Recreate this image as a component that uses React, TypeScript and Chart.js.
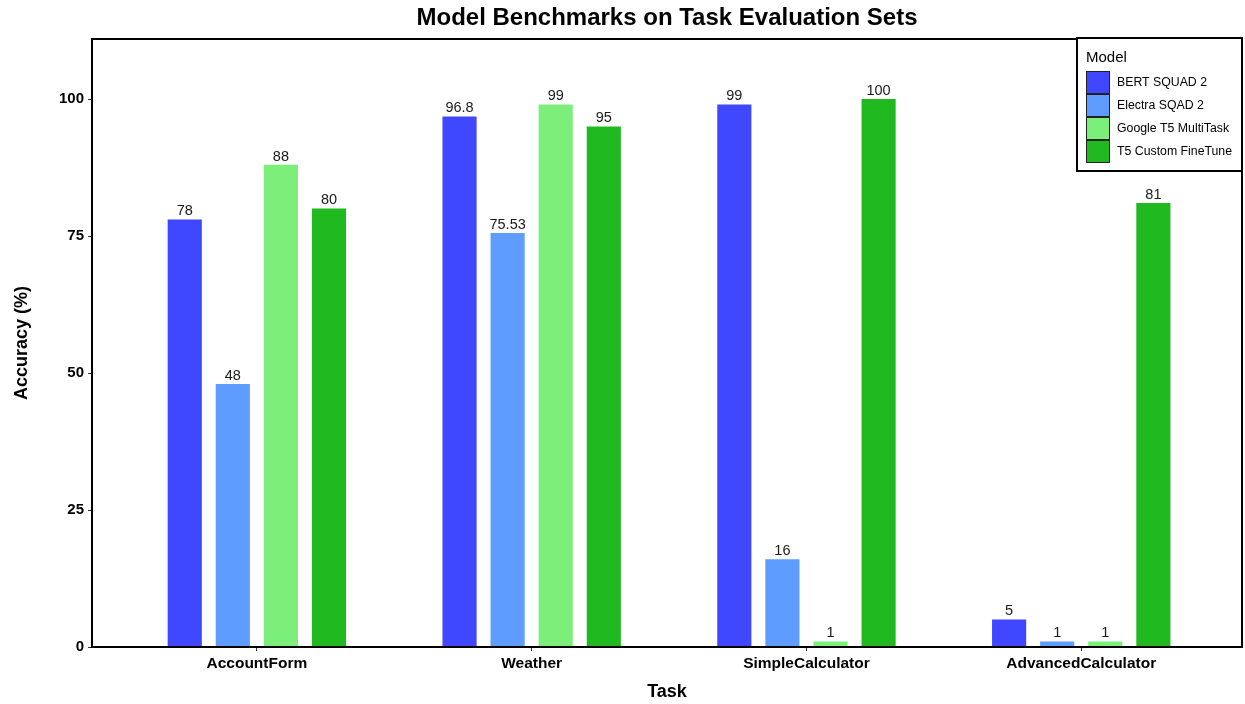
import React, { useEffect, useRef } from "react";
import { Chart, registerables } from "chart.js";

Chart.register(...registerables);

const categories = ["AccountForm", "Weather", "SimpleCalculator", "AdvancedCalculator"];
const modelNames = ["BERT SQUAD 2", "Electra SQAD 2", "Google T5 MultiTask", "T5 Custom FineTune"];
const bertValues = [78, 96.8, 99, 5];
const electraValues = [48, 75.53, 16, 1];
const googleValues = [88, 99, 1, 1];
const t5Values = [80, 95, 100, 81];
const seriesColors = ["#3F47FF", "#5E9DFF", "#7CEF7A", "#20BA20"];
const yTicks = [0, 25, 50, 75, 100];

const FONT = "'Liberation Sans', Arial, sans-serif";

const overlayPlugin = {
  id: "overlay",
  afterDatasetsDraw(chart: any) {
    const ctx = chart.ctx;
    const area = chart.chartArea;
    ctx.save();
    // data labels
    ctx.fillStyle = "#1a1a1a";
    ctx.font = `14.5px ${FONT}`;
    ctx.textAlign = "center";
    ctx.textBaseline = "bottom";
    chart.data.datasets.forEach((ds: any, di: number) => {
      const meta = chart.getDatasetMeta(di);
      meta.data.forEach((bar: any, i: number) => {
        const v = ds.data[i].y;
        ctx.fillText(String(v), bar.x, bar.y - 1);
      });
    });
    // panel border
    ctx.strokeStyle = "#000";
    ctx.lineWidth = 2;
    ctx.strokeRect(area.left, area.top, area.right - area.left, area.bottom - area.top);
    // title
    ctx.fillStyle = "#000";
    ctx.font = `bold 24px ${FONT}`;
    ctx.textBaseline = "middle";
    ctx.textAlign = "center";
    ctx.fillText("Model Benchmarks on Task Evaluation Sets", (area.left + area.right) / 2, 18);
    // x title
    ctx.font = `bold 18px ${FONT}`;
    ctx.fillText("Task", (area.left + area.right) / 2, 692);
    // y title
    ctx.save();
    ctx.translate(22, (area.top + area.bottom) / 2);
    ctx.rotate(-Math.PI / 2);
    ctx.fillText("Accuracy (%)", 0, 0);
    ctx.restore();
    // legend
    const lx = 1077, ly = 38, lw = area.right - 1077, lh = 133;
    ctx.fillStyle = "#fff";
    ctx.fillRect(lx, ly, lw, lh);
    ctx.strokeStyle = "#000";
    ctx.lineWidth = 2;
    ctx.strokeRect(lx, ly, lw, lh);
    ctx.fillStyle = "#000";
    ctx.font = `15px ${FONT}`;
    ctx.textAlign = "left";
    ctx.textBaseline = "middle";
    ctx.fillText("Model", 1086, 58);
    const sx = 1086, sw = 24, sh = 23, sy = 71;
    ctx.font = `12.3px ${FONT}`;
    modelNames.forEach((name, i) => {
      const y = sy + i * sh;
      ctx.fillStyle = seriesColors[i];
      ctx.fillRect(sx, y, sw, sh);
      ctx.strokeStyle = "#222";
      ctx.lineWidth = 1;
      ctx.strokeRect(sx + 0.5, y + 0.5, sw - 1, sh - 1);
      ctx.fillStyle = "#000";
      ctx.fillText(name, 1117, y + sh / 2 + 0.5);
    });
    ctx.restore();
  },
};

export default function App() {
  const ref = useRef<HTMLCanvasElement>(null);
  useEffect(() => {
    if (!ref.current) return;
    const all = [bertValues, electraValues, googleValues, t5Values];
    const chart = new Chart(ref.current, {
      type: "bar",
      data: {
        datasets: all.map((vals, si) => ({
          label: modelNames[si],
          data: vals.map((v, i) => ({ x: i, y: v })),
          backgroundColor: seriesColors[si],
          borderWidth: 0,
          categoryPercentage: 0.7,
          barPercentage: 0.71,
        })),
      },
      options: {
        responsive: false,
        animation: false,
        layout: { padding: { top: 39, right: 3, left: 0, bottom: 0 } },
        plugins: {
          legend: { display: false },
          title: { display: false },
          tooltip: { enabled: false },
        },
        scales: {
          x: {
            type: "linear",
            offset: false,
            min: -0.6,
            max: 3.585,
            afterBuildTicks(scale: any) {
              scale.ticks = categories.map((_, i) => ({ value: i }));
            },
            afterFit(scale: any) {
              scale.height = 57;
            },
            ticks: {
              callback: (v: any) => categories[v] ?? "",
              color: "#000",
              font: { family: FONT, size: 15.5, weight: "bold" },
              padding: 3,
              maxRotation: 0,
              autoSkip: false,
            },
            grid: { offset: false, drawOnChartArea: false, drawTicks: true, tickLength: 4, color: "#333" },
            border: { display: true, color: "#000", width: 2 },
          },
          y: {
            min: 0,
            max: 110.95,
            afterBuildTicks(scale: any) {
              scale.ticks = yTicks.map((v) => ({ value: v }));
            },
            afterFit(scale: any) {
              scale.width = 92;
            },
            ticks: {
              color: "#000",
              font: { family: FONT, size: 15, weight: "bold" },
              padding: 4,
            },
            grid: { drawOnChartArea: false, drawTicks: true, tickLength: 4, color: "#333" },
            border: { display: true, color: "#000", width: 2 },
          },
        },
      },
      plugins: [overlayPlugin],
    } as any);
    return () => chart.destroy();
  }, []);
  return (
    <div style={{ position: "fixed", left: 0, top: 0, width: 1245, height: 704, background: "#fff" }}>
      <canvas ref={ref} width={1245} height={704} />
    </div>
  );
}
